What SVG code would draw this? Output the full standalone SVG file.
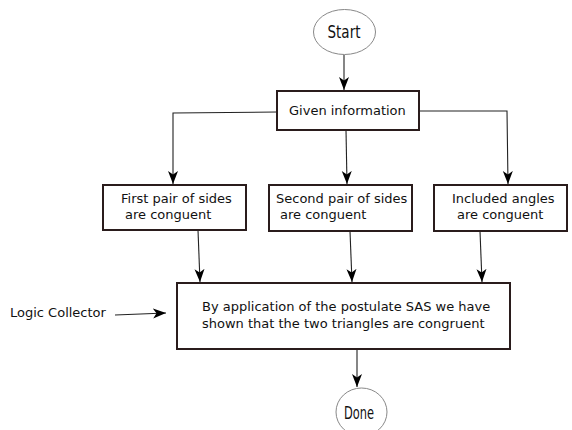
<svg xmlns="http://www.w3.org/2000/svg" width="572" height="430" viewBox="0 0 572 430">
<style>
.box{fill:#fff;stroke:#2a1c1c;stroke-width:2}
.ell{fill:#fff;stroke:#888;stroke-width:1}
.t{font-family:"DejaVu Sans","Verdana",sans-serif;font-size:13px;fill:#111}
.e{font-family:"DejaVu Sans Condensed","DejaVu Sans",sans-serif;font-stretch:condensed;font-size:18px;fill:#111;text-anchor:middle}
.c{fill:none;stroke:#222;stroke-width:1.1}
</style>
<defs>
<marker id="ah" markerUnits="userSpaceOnUse" markerWidth="14" markerHeight="12" refX="13" refY="5" orient="auto">
<path d="M0,0 L13,5 L0,10 L3.5,5 z" fill="#000"/>
</marker>
</defs>
<rect width="572" height="430" fill="#fff"/>
<g id="connectors">
<line class="c" x1="344" y1="55" x2="344" y2="90" marker-end="url(#ah)"/>
<polyline class="c" points="277,112 173,113 173,184" marker-end="url(#ah)"/>
<line class="c" x1="346" y1="130" x2="347" y2="184" marker-end="url(#ah)"/>
<polyline class="c" points="419,111 507,111 508,184" marker-end="url(#ah)"/>
<line class="c" x1="198" y1="230" x2="200" y2="282" marker-end="url(#ah)"/>
<line class="c" x1="350" y1="231" x2="352" y2="282" marker-end="url(#ah)"/>
<line class="c" x1="480" y1="231" x2="482" y2="282" marker-end="url(#ah)"/>
<line class="c" x1="115" y1="315" x2="166" y2="313" marker-end="url(#ah)"/>
<line class="c" x1="357" y1="349" x2="357" y2="387" marker-end="url(#ah)"/>
</g>
<g id="start">
<ellipse class="ell" cx="344.5" cy="32" rx="31" ry="22.5"/>
<text class="e" x="344" y="38" textLength="33" lengthAdjust="spacingAndGlyphs">Start</text>
</g>
<g id="given">
<rect class="box" x="277" y="91" width="142" height="39"/>
<text class="t" x="289" y="115">Given information</text>
</g>
<g id="first">
<rect class="box" x="103" y="185" width="143" height="45"/>
<text class="t" x="121" y="203">First pair of sides</text>
<text class="t" x="125" y="219">are conguent</text>
</g>
<g id="second">
<rect class="box" x="269" y="185" width="143" height="46"/>
<text class="t" x="276" y="203">Second pair of sides</text>
<text class="t" x="280" y="219">are conguent</text>
</g>
<g id="third">
<rect class="box" x="434" y="185" width="133" height="46"/>
<text class="t" x="452" y="203">Included angles</text>
<text class="t" x="457" y="219">are conguent</text>
</g>
<g id="logic-label">
<text class="t" x="10" y="317">Logic Collector</text>
</g>
<g id="collector">
<rect class="box" x="177" y="283" width="333" height="66"/>
<text class="t" x="202" y="311">By application of the postulate SAS we have</text>
<text class="t" x="202" y="328">shown that the two triangles are congruent</text>
</g>
<g id="done">
<ellipse class="ell" cx="361.5" cy="412" rx="25.5" ry="24"/>
<text class="e" x="359" y="419" textLength="30" lengthAdjust="spacingAndGlyphs">Done</text>
</g>
</svg>
